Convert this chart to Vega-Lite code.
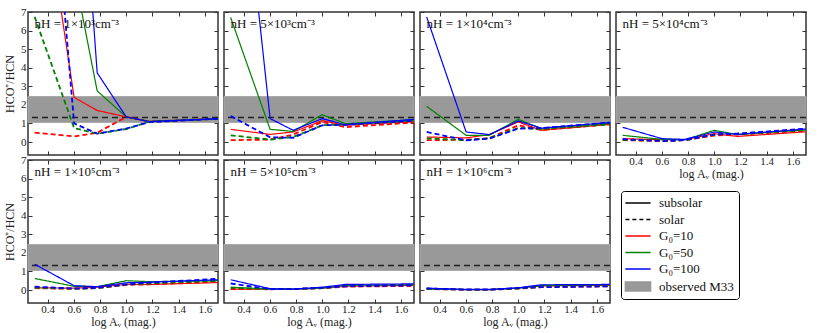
{
"$schema": "https://vega.github.io/schema/vega-lite/v6.json",
"padding": {"left": 2, "top": 5, "right": 5, "bottom": 2},
"config": {
  "font": "Liberation Serif",
  "view": {"stroke": "#333333", "strokeWidth": 1.5},
  "axis": {"labelFont": "Liberation Serif", "titleFont": "Liberation Serif", "labelFontSize": 11, "titleFontSize": 12, "titleFontWeight": "normal", "labelColor": "#222222", "titleColor": "#222222", "domain": false, "grid": false, "tickColor": "#333333", "tickSize": -4, "labelPadding": 6, "labelOverlap": false},
  "axisX": {"labelPadding": 4}
},
"datasets": {"curves": [
{"p":1,"g":"G₀=10","a":"subsolar","x":0.301,"y":16.6,"t":"nH = 1×10³cm⁻³"},{"p":1,"g":"G₀=10","a":"subsolar","x":0.602,"y":2.4},{"p":1,"g":"G₀=10","a":"subsolar","x":0.778,"y":1.7},{"p":1,"g":"G₀=10","a":"subsolar","x":1.0,"y":1.35},{"p":1,"g":"G₀=10","a":"subsolar","x":1.176,"y":1.1},{"p":1,"g":"G₀=10","a":"subsolar","x":1.699,"y":1.25},
{"p":1,"g":"G₀=10","a":"solar","x":0.301,"y":0.5},{"p":1,"g":"G₀=10","a":"solar","x":0.602,"y":0.3},{"p":1,"g":"G₀=10","a":"solar","x":0.778,"y":0.5},{"p":1,"g":"G₀=10","a":"solar","x":1.0,"y":1.35},{"p":1,"g":"G₀=10","a":"solar","x":1.176,"y":1.1},{"p":1,"g":"G₀=10","a":"solar","x":1.699,"y":1.25},
{"p":1,"g":"G₀=50","a":"subsolar","x":0.301,"y":20},{"p":1,"g":"G₀=50","a":"subsolar","x":0.602,"y":9.1},{"p":1,"g":"G₀=50","a":"subsolar","x":0.778,"y":2.75},{"p":1,"g":"G₀=50","a":"subsolar","x":1.0,"y":1.35},{"p":1,"g":"G₀=50","a":"subsolar","x":1.176,"y":1.1},{"p":1,"g":"G₀=50","a":"subsolar","x":1.699,"y":1.25},
{"p":1,"g":"G₀=50","a":"solar","x":0.301,"y":6.74},{"p":1,"g":"G₀=50","a":"solar","x":0.602,"y":0.75},{"p":1,"g":"G₀=50","a":"solar","x":0.778,"y":0.45},{"p":1,"g":"G₀=50","a":"solar","x":1.0,"y":0.7},{"p":1,"g":"G₀=50","a":"solar","x":1.176,"y":1.1},{"p":1,"g":"G₀=50","a":"solar","x":1.699,"y":1.25},
{"p":1,"g":"G₀=100","a":"subsolar","x":0.301,"y":30},{"p":1,"g":"G₀=100","a":"subsolar","x":0.602,"y":21},{"p":1,"g":"G₀=100","a":"subsolar","x":0.778,"y":3.72},{"p":1,"g":"G₀=100","a":"subsolar","x":1.0,"y":1.35},{"p":1,"g":"G₀=100","a":"subsolar","x":1.176,"y":1.1},{"p":1,"g":"G₀=100","a":"subsolar","x":1.699,"y":1.25},
{"p":1,"g":"G₀=100","a":"solar","x":0.301,"y":26},{"p":1,"g":"G₀=100","a":"solar","x":0.602,"y":1.0},{"p":1,"g":"G₀=100","a":"solar","x":0.778,"y":0.45},{"p":1,"g":"G₀=100","a":"solar","x":1.0,"y":0.72},{"p":1,"g":"G₀=100","a":"solar","x":1.176,"y":1.07},{"p":1,"g":"G₀=100","a":"solar","x":1.699,"y":1.25},

{"p":2,"g":"G₀=10","a":"subsolar","x":0.301,"y":0.68,"t":"nH = 5×10³cm⁻³"},{"p":2,"g":"G₀=10","a":"subsolar","x":0.602,"y":0.41},{"p":2,"g":"G₀=10","a":"subsolar","x":0.778,"y":0.54},{"p":2,"g":"G₀=10","a":"subsolar","x":1.0,"y":1.15},{"p":2,"g":"G₀=10","a":"subsolar","x":1.176,"y":0.9},{"p":2,"g":"G₀=10","a":"subsolar","x":1.699,"y":1.1},
{"p":2,"g":"G₀=10","a":"solar","x":0.301,"y":0.1},{"p":2,"g":"G₀=10","a":"solar","x":0.602,"y":0.13},{"p":2,"g":"G₀=10","a":"solar","x":0.778,"y":0.4},{"p":2,"g":"G₀=10","a":"solar","x":1.0,"y":1.08},{"p":2,"g":"G₀=10","a":"solar","x":1.176,"y":0.8},{"p":2,"g":"G₀=10","a":"solar","x":1.699,"y":1.05},
{"p":2,"g":"G₀=50","a":"subsolar","x":0.301,"y":6.7},{"p":2,"g":"G₀=50","a":"subsolar","x":0.602,"y":0.68},{"p":2,"g":"G₀=50","a":"subsolar","x":0.778,"y":0.57},{"p":2,"g":"G₀=50","a":"subsolar","x":1.0,"y":1.47},{"p":2,"g":"G₀=50","a":"subsolar","x":1.176,"y":0.99},{"p":2,"g":"G₀=50","a":"subsolar","x":1.699,"y":1.2},
{"p":2,"g":"G₀=50","a":"solar","x":0.301,"y":0.36},{"p":2,"g":"G₀=50","a":"solar","x":0.602,"y":0.13},{"p":2,"g":"G₀=50","a":"solar","x":0.778,"y":0.27},{"p":2,"g":"G₀=50","a":"solar","x":1.0,"y":0.9},{"p":2,"g":"G₀=50","a":"solar","x":1.176,"y":0.95},{"p":2,"g":"G₀=50","a":"solar","x":1.699,"y":1.15},
{"p":2,"g":"G₀=100","a":"subsolar","x":0.301,"y":21},{"p":2,"g":"G₀=100","a":"subsolar","x":0.602,"y":1.26},{"p":2,"g":"G₀=100","a":"subsolar","x":0.778,"y":0.63},{"p":2,"g":"G₀=100","a":"subsolar","x":1.0,"y":1.26},{"p":2,"g":"G₀=100","a":"subsolar","x":1.176,"y":0.93},{"p":2,"g":"G₀=100","a":"subsolar","x":1.699,"y":1.22},
{"p":2,"g":"G₀=100","a":"solar","x":0.301,"y":1.4},{"p":2,"g":"G₀=100","a":"solar","x":0.602,"y":0.25},{"p":2,"g":"G₀=100","a":"solar","x":0.778,"y":0.23},{"p":2,"g":"G₀=100","a":"solar","x":1.0,"y":0.9},{"p":2,"g":"G₀=100","a":"solar","x":1.176,"y":0.93},{"p":2,"g":"G₀=100","a":"solar","x":1.699,"y":1.15},

{"p":3,"g":"G₀=10","a":"subsolar","x":0.301,"y":0.27,"t":"nH = 1×10⁴cm⁻³"},{"p":3,"g":"G₀=10","a":"subsolar","x":0.602,"y":0.22},{"p":3,"g":"G₀=10","a":"subsolar","x":0.778,"y":0.4},{"p":3,"g":"G₀=10","a":"subsolar","x":1.0,"y":1.08},{"p":3,"g":"G₀=10","a":"subsolar","x":1.176,"y":0.63},{"p":3,"g":"G₀=10","a":"subsolar","x":1.699,"y":0.95},
{"p":3,"g":"G₀=10","a":"solar","x":0.301,"y":0.1},{"p":3,"g":"G₀=10","a":"solar","x":0.602,"y":0.12},{"p":3,"g":"G₀=10","a":"solar","x":0.778,"y":0.2},{"p":3,"g":"G₀=10","a":"solar","x":1.0,"y":0.9},{"p":3,"g":"G₀=10","a":"solar","x":1.176,"y":0.65},{"p":3,"g":"G₀=10","a":"solar","x":1.699,"y":0.95},
{"p":3,"g":"G₀=50","a":"subsolar","x":0.301,"y":1.92},{"p":3,"g":"G₀=50","a":"subsolar","x":0.602,"y":0.36},{"p":3,"g":"G₀=50","a":"subsolar","x":0.778,"y":0.36},{"p":3,"g":"G₀=50","a":"subsolar","x":1.0,"y":1.22},{"p":3,"g":"G₀=50","a":"subsolar","x":1.176,"y":0.72},{"p":3,"g":"G₀=50","a":"subsolar","x":1.699,"y":1.0},
{"p":3,"g":"G₀=50","a":"solar","x":0.301,"y":0.2},{"p":3,"g":"G₀=50","a":"solar","x":0.602,"y":0.1},{"p":3,"g":"G₀=50","a":"solar","x":0.778,"y":0.2},{"p":3,"g":"G₀=50","a":"solar","x":1.0,"y":0.75},{"p":3,"g":"G₀=50","a":"solar","x":1.176,"y":0.7},{"p":3,"g":"G₀=50","a":"solar","x":1.699,"y":0.95},
{"p":3,"g":"G₀=100","a":"subsolar","x":0.301,"y":6.73},{"p":3,"g":"G₀=100","a":"subsolar","x":0.602,"y":0.54},{"p":3,"g":"G₀=100","a":"subsolar","x":0.778,"y":0.4},{"p":3,"g":"G₀=100","a":"subsolar","x":1.0,"y":1.13},{"p":3,"g":"G₀=100","a":"subsolar","x":1.176,"y":0.75},{"p":3,"g":"G₀=100","a":"subsolar","x":1.699,"y":1.05},
{"p":3,"g":"G₀=100","a":"solar","x":0.301,"y":0.54},{"p":3,"g":"G₀=100","a":"solar","x":0.602,"y":0.09},{"p":3,"g":"G₀=100","a":"solar","x":0.778,"y":0.18},{"p":3,"g":"G₀=100","a":"solar","x":1.0,"y":0.72},{"p":3,"g":"G₀=100","a":"solar","x":1.176,"y":0.75},{"p":3,"g":"G₀=100","a":"solar","x":1.699,"y":1.05},

{"p":4,"g":"G₀=10","a":"subsolar","x":0.301,"y":0.18,"t":"nH = 5×10⁴cm⁻³"},{"p":4,"g":"G₀=10","a":"subsolar","x":0.602,"y":0.12},{"p":4,"g":"G₀=10","a":"subsolar","x":0.778,"y":0.12},{"p":4,"g":"G₀=10","a":"subsolar","x":1.0,"y":0.45},{"p":4,"g":"G₀=10","a":"subsolar","x":1.176,"y":0.3},{"p":4,"g":"G₀=10","a":"subsolar","x":1.699,"y":0.55},
{"p":4,"g":"G₀=10","a":"solar","x":0.301,"y":0.1},{"p":4,"g":"G₀=10","a":"solar","x":0.602,"y":0.05},{"p":4,"g":"G₀=10","a":"solar","x":0.778,"y":0.1},{"p":4,"g":"G₀=10","a":"solar","x":1.0,"y":0.35},{"p":4,"g":"G₀=10","a":"solar","x":1.176,"y":0.4},{"p":4,"g":"G₀=10","a":"solar","x":1.699,"y":0.6},
{"p":4,"g":"G₀=50","a":"subsolar","x":0.301,"y":0.36},{"p":4,"g":"G₀=50","a":"subsolar","x":0.602,"y":0.14},{"p":4,"g":"G₀=50","a":"subsolar","x":0.778,"y":0.12},{"p":4,"g":"G₀=50","a":"subsolar","x":1.0,"y":0.63},{"p":4,"g":"G₀=50","a":"subsolar","x":1.176,"y":0.4},{"p":4,"g":"G₀=50","a":"subsolar","x":1.699,"y":0.65},
{"p":4,"g":"G₀=50","a":"solar","x":0.301,"y":0.12},{"p":4,"g":"G₀=50","a":"solar","x":0.602,"y":0.07},{"p":4,"g":"G₀=50","a":"solar","x":0.778,"y":0.1},{"p":4,"g":"G₀=50","a":"solar","x":1.0,"y":0.4},{"p":4,"g":"G₀=50","a":"solar","x":1.176,"y":0.45},{"p":4,"g":"G₀=50","a":"solar","x":1.699,"y":0.65},
{"p":4,"g":"G₀=100","a":"subsolar","x":0.301,"y":0.79},{"p":4,"g":"G₀=100","a":"subsolar","x":0.602,"y":0.18},{"p":4,"g":"G₀=100","a":"subsolar","x":0.778,"y":0.14},{"p":4,"g":"G₀=100","a":"subsolar","x":1.0,"y":0.54},{"p":4,"g":"G₀=100","a":"subsolar","x":1.176,"y":0.41},{"p":4,"g":"G₀=100","a":"subsolar","x":1.699,"y":0.7},
{"p":4,"g":"G₀=100","a":"solar","x":0.301,"y":0.15},{"p":4,"g":"G₀=100","a":"solar","x":0.602,"y":0.05},{"p":4,"g":"G₀=100","a":"solar","x":0.778,"y":0.1},{"p":4,"g":"G₀=100","a":"solar","x":1.0,"y":0.4},{"p":4,"g":"G₀=100","a":"solar","x":1.176,"y":0.45},{"p":4,"g":"G₀=100","a":"solar","x":1.699,"y":0.72},

{"p":5,"g":"G₀=10","a":"subsolar","x":0.301,"y":0.12,"t":"nH = 1×10⁵cm⁻³"},{"p":5,"g":"G₀=10","a":"subsolar","x":0.602,"y":0.1},{"p":5,"g":"G₀=10","a":"subsolar","x":0.778,"y":0.15},{"p":5,"g":"G₀=10","a":"subsolar","x":1.0,"y":0.3},{"p":5,"g":"G₀=10","a":"subsolar","x":1.176,"y":0.3},{"p":5,"g":"G₀=10","a":"subsolar","x":1.699,"y":0.4},
{"p":5,"g":"G₀=10","a":"solar","x":0.301,"y":0.1},{"p":5,"g":"G₀=10","a":"solar","x":0.602,"y":0.06},{"p":5,"g":"G₀=10","a":"solar","x":0.778,"y":0.1},{"p":5,"g":"G₀=10","a":"solar","x":1.0,"y":0.28},{"p":5,"g":"G₀=10","a":"solar","x":1.176,"y":0.3},{"p":5,"g":"G₀=10","a":"solar","x":1.699,"y":0.45},
{"p":5,"g":"G₀=50","a":"subsolar","x":0.301,"y":0.62},{"p":5,"g":"G₀=50","a":"subsolar","x":0.602,"y":0.2},{"p":5,"g":"G₀=50","a":"subsolar","x":0.778,"y":0.18},{"p":5,"g":"G₀=50","a":"subsolar","x":1.0,"y":0.5},{"p":5,"g":"G₀=50","a":"subsolar","x":1.176,"y":0.45},{"p":5,"g":"G₀=50","a":"subsolar","x":1.699,"y":0.5},
{"p":5,"g":"G₀=50","a":"solar","x":0.301,"y":0.12},{"p":5,"g":"G₀=50","a":"solar","x":0.602,"y":0.07},{"p":5,"g":"G₀=50","a":"solar","x":0.778,"y":0.1},{"p":5,"g":"G₀=50","a":"solar","x":1.0,"y":0.3},{"p":5,"g":"G₀=50","a":"solar","x":1.176,"y":0.35},{"p":5,"g":"G₀=50","a":"solar","x":1.699,"y":0.5},
{"p":5,"g":"G₀=100","a":"subsolar","x":0.301,"y":1.39},{"p":5,"g":"G₀=100","a":"subsolar","x":0.602,"y":0.23},{"p":5,"g":"G₀=100","a":"subsolar","x":0.778,"y":0.18},{"p":5,"g":"G₀=100","a":"subsolar","x":1.0,"y":0.39},{"p":5,"g":"G₀=100","a":"subsolar","x":1.176,"y":0.42},{"p":5,"g":"G₀=100","a":"subsolar","x":1.699,"y":0.55},
{"p":5,"g":"G₀=100","a":"solar","x":0.301,"y":0.18},{"p":5,"g":"G₀=100","a":"solar","x":0.602,"y":0.08},{"p":5,"g":"G₀=100","a":"solar","x":0.778,"y":0.12},{"p":5,"g":"G₀=100","a":"solar","x":1.0,"y":0.3},{"p":5,"g":"G₀=100","a":"solar","x":1.176,"y":0.4},{"p":5,"g":"G₀=100","a":"solar","x":1.699,"y":0.6},

{"p":6,"g":"G₀=10","a":"subsolar","x":0.301,"y":0.05,"t":"nH = 5×10⁵cm⁻³"},{"p":6,"g":"G₀=10","a":"subsolar","x":0.602,"y":0.04},{"p":6,"g":"G₀=10","a":"subsolar","x":0.778,"y":0.05},{"p":6,"g":"G₀=10","a":"subsolar","x":1.0,"y":0.1},{"p":6,"g":"G₀=10","a":"subsolar","x":1.176,"y":0.2},{"p":6,"g":"G₀=10","a":"subsolar","x":1.699,"y":0.25},
{"p":6,"g":"G₀=10","a":"solar","x":0.301,"y":0.05},{"p":6,"g":"G₀=10","a":"solar","x":0.602,"y":0.04},{"p":6,"g":"G₀=10","a":"solar","x":0.778,"y":0.05},{"p":6,"g":"G₀=10","a":"solar","x":1.0,"y":0.1},{"p":6,"g":"G₀=10","a":"solar","x":1.176,"y":0.18},{"p":6,"g":"G₀=10","a":"solar","x":1.699,"y":0.22},
{"p":6,"g":"G₀=50","a":"subsolar","x":0.301,"y":0.15},{"p":6,"g":"G₀=50","a":"subsolar","x":0.602,"y":0.05},{"p":6,"g":"G₀=50","a":"subsolar","x":0.778,"y":0.05},{"p":6,"g":"G₀=50","a":"subsolar","x":1.0,"y":0.1},{"p":6,"g":"G₀=50","a":"subsolar","x":1.176,"y":0.25},{"p":6,"g":"G₀=50","a":"subsolar","x":1.699,"y":0.28},
{"p":6,"g":"G₀=50","a":"solar","x":0.301,"y":0.12},{"p":6,"g":"G₀=50","a":"solar","x":0.602,"y":0.05},{"p":6,"g":"G₀=50","a":"solar","x":0.778,"y":0.05},{"p":6,"g":"G₀=50","a":"solar","x":1.0,"y":0.1},{"p":6,"g":"G₀=50","a":"solar","x":1.176,"y":0.22},{"p":6,"g":"G₀=50","a":"solar","x":1.699,"y":0.28},
{"p":6,"g":"G₀=100","a":"subsolar","x":0.301,"y":0.55},{"p":6,"g":"G₀=100","a":"subsolar","x":0.602,"y":0.07},{"p":6,"g":"G₀=100","a":"subsolar","x":0.778,"y":0.05},{"p":6,"g":"G₀=100","a":"subsolar","x":1.0,"y":0.15},{"p":6,"g":"G₀=100","a":"subsolar","x":1.176,"y":0.3},{"p":6,"g":"G₀=100","a":"subsolar","x":1.699,"y":0.33},
{"p":6,"g":"G₀=100","a":"solar","x":0.301,"y":0.35},{"p":6,"g":"G₀=100","a":"solar","x":0.602,"y":0.05},{"p":6,"g":"G₀=100","a":"solar","x":0.778,"y":0.05},{"p":6,"g":"G₀=100","a":"solar","x":1.0,"y":0.12},{"p":6,"g":"G₀=100","a":"solar","x":1.176,"y":0.2},{"p":6,"g":"G₀=100","a":"solar","x":1.699,"y":0.25},

{"p":7,"g":"G₀=10","a":"subsolar","x":0.301,"y":0.05,"t":"nH = 1×10⁶cm⁻³"},{"p":7,"g":"G₀=10","a":"subsolar","x":0.602,"y":0.02},{"p":7,"g":"G₀=10","a":"subsolar","x":0.778,"y":0.02},{"p":7,"g":"G₀=10","a":"subsolar","x":1.0,"y":0.1},{"p":7,"g":"G₀=10","a":"subsolar","x":1.176,"y":0.22},{"p":7,"g":"G₀=10","a":"subsolar","x":1.699,"y":0.25},
{"p":7,"g":"G₀=10","a":"solar","x":0.301,"y":0.05},{"p":7,"g":"G₀=10","a":"solar","x":0.602,"y":0.02},{"p":7,"g":"G₀=10","a":"solar","x":0.778,"y":0.02},{"p":7,"g":"G₀=10","a":"solar","x":1.0,"y":0.08},{"p":7,"g":"G₀=10","a":"solar","x":1.176,"y":0.15},{"p":7,"g":"G₀=10","a":"solar","x":1.699,"y":0.2},
{"p":7,"g":"G₀=50","a":"subsolar","x":0.301,"y":0.07},{"p":7,"g":"G₀=50","a":"subsolar","x":0.602,"y":0.02},{"p":7,"g":"G₀=50","a":"subsolar","x":0.778,"y":0.02},{"p":7,"g":"G₀=50","a":"subsolar","x":1.0,"y":0.1},{"p":7,"g":"G₀=50","a":"subsolar","x":1.176,"y":0.25},{"p":7,"g":"G₀=50","a":"subsolar","x":1.699,"y":0.28},
{"p":7,"g":"G₀=50","a":"solar","x":0.301,"y":0.06},{"p":7,"g":"G₀=50","a":"solar","x":0.602,"y":0.02},{"p":7,"g":"G₀=50","a":"solar","x":0.778,"y":0.02},{"p":7,"g":"G₀=50","a":"solar","x":1.0,"y":0.08},{"p":7,"g":"G₀=50","a":"solar","x":1.176,"y":0.18},{"p":7,"g":"G₀=50","a":"solar","x":1.699,"y":0.22},
{"p":7,"g":"G₀=100","a":"subsolar","x":0.301,"y":0.1},{"p":7,"g":"G₀=100","a":"subsolar","x":0.602,"y":0.03},{"p":7,"g":"G₀=100","a":"subsolar","x":0.778,"y":0.03},{"p":7,"g":"G₀=100","a":"subsolar","x":1.0,"y":0.12},{"p":7,"g":"G₀=100","a":"subsolar","x":1.176,"y":0.28},{"p":7,"g":"G₀=100","a":"subsolar","x":1.699,"y":0.3},
{"p":7,"g":"G₀=100","a":"solar","x":0.301,"y":0.08},{"p":7,"g":"G₀=100","a":"solar","x":0.602,"y":0.02},{"p":7,"g":"G₀=100","a":"solar","x":0.778,"y":0.02},{"p":7,"g":"G₀=100","a":"solar","x":1.0,"y":0.1},{"p":7,"g":"G₀=100","a":"solar","x":1.176,"y":0.15},{"p":7,"g":"G₀=100","a":"solar","x":1.699,"y":0.2}
]},
"data": {"name": "curves"},
"columns": 4,
"spacing": {"row": 5, "column": 6},
"bounds": "flush",
"resolve": {"scale": {"color": "shared", "strokeDash": "shared", "strokeWidth": "shared"}, "legend": {"color": "shared"}},
"concat": [
 {"width": 190, "height": 143, "transform": [{"filter": "datum.p == 1"}], "resolve": {"axis": {"x": "independent", "y": "independent"}},
  "layer": [
   {"transform": [{"filter": "isValid(datum.t)"}], "mark": {"type": "rect", "fill": "#999999", "stroke": "#aaaaaa", "strokeWidth": 1},
    "encoding": {"y": {"datum": 1.05, "type": "quantitative", "scale": {"domain": [-0.7, 7], "nice": false, "zero": false}, "axis": {"orient": "left", "values": [0,1,2,3,4,5,6,7], "title": "HCO⁺/HCN", "titlePadding": 4}}, "y2": {"datum": 2.45}}},
   {"transform": [{"filter": "isValid(datum.t)"}], "mark": {"type": "rule", "color": "#222222", "strokeWidth": 1.5, "strokeDash": [6, 4]},
    "encoding": {"y": {"datum": 1.32, "type": "quantitative", "axis": null}}},
   {"mark": {"type": "line", "clip": true},
    "encoding": {
     "x": {"field": "x", "type": "quantitative", "scale": {"domain": [0.25, 1.7], "nice": false, "zero": false}, "axis": {"orient": "bottom", "values": [0.4,0.6,0.8,1.0,1.2,1.4,1.6], "labels": false, "title": null}},
     "y": {"field": "y", "type": "quantitative", "axis": null},
     "color": {"field": "g", "type": "nominal", "scale": {"domain": ["subsolar", "solar", "G₀=10", "G₀=50", "G₀=100", "observed M33"], "range": ["#000000", "#000000", "#ff0000", "#008000", "#0000ff", "#999999"]},
               "legend": {"orient": "none", "legendX": 593, "legendY": 179, "title": null,
                          "symbolType": "M-2.1,0L2.1,0", "symbolSize": 144, "symbolStrokeWidth": 1.5,
                          "labelFont": "Liberation Serif", "labelFontSize": 13, "labelColor": "#111111", "labelOffset": 14,
                          "rowPadding": 2.5, "padding": 5, "strokeColor": "#000000", "cornerRadius": 3, "fillColor": "#ffffff", "symbolOffset": 5,
                          "encode": {"symbols": {"update": {
                            "shape": {"signal": "datum.value === 'observed M33' ? 'M-2.1,-0.75L2.1,-0.75L2.1,0.75L-2.1,0.75Z' : 'M-2.1,0L2.1,0'"},
                            "fill": {"signal": "datum.value === 'observed M33' ? '#999999' : 'transparent'"},
                            "strokeDash": {"signal": "datum.value === 'solar' ? [4,3] : [1,0]"}}}}}},
     "strokeDash": {"field": "a", "type": "nominal", "scale": {"domain": ["subsolar", "solar"], "range": [[1, 0], [5, 3]]}, "legend": null},
     "strokeWidth": {"field": "a", "type": "ordinal", "scale": {"domain": ["subsolar", "solar"], "range": [1.2, 1.8]}, "legend": null}}},
   {"transform": [{"filter": "isValid(datum.t)"}], "mark": {"type": "text", "align": "left", "baseline": "middle", "fontSize": 13, "font": "Liberation Serif", "color": "#111111"},
    "encoding": {"x": {"datum": 0.3, "type": "quantitative", "axis": {"orient": "top", "values": [0.4,0.6,0.8,1.0,1.2,1.4,1.6], "labels": false, "title": null}},
                 "y": {"datum": 6.35, "type": "quantitative", "axis": {"orient": "right", "values": [0,1,2,3,4,5,6,7], "labels": false, "title": null}},
                 "text": {"field": "t"}}}
  ]},
 {"width": 190, "height": 143, "transform": [{"filter": "datum.p == 2"}], "resolve": {"axis": {"x": "independent", "y": "independent"}},
  "layer": [
   {"transform": [{"filter": "isValid(datum.t)"}], "mark": {"type": "rect", "fill": "#999999", "stroke": "#aaaaaa", "strokeWidth": 1},
    "encoding": {"y": {"datum": 1.05, "type": "quantitative", "scale": {"domain": [-0.7, 7], "nice": false, "zero": false}, "axis": {"orient": "left", "values": [0,1,2,3,4,5,6,7], "labels": false, "title": null}}, "y2": {"datum": 2.45}}},
   {"transform": [{"filter": "isValid(datum.t)"}], "mark": {"type": "rule", "color": "#222222", "strokeWidth": 1.5, "strokeDash": [6, 4]},
    "encoding": {"y": {"datum": 1.32, "type": "quantitative", "axis": null}}},
   {"mark": {"type": "line", "clip": true},
    "encoding": {
     "x": {"field": "x", "type": "quantitative", "scale": {"domain": [0.25, 1.7], "nice": false, "zero": false}, "axis": {"orient": "bottom", "values": [0.4,0.6,0.8,1.0,1.2,1.4,1.6], "labels": false, "title": null}},
     "y": {"field": "y", "type": "quantitative", "axis": null},
     "color": {"field": "g", "type": "nominal", "scale": {"domain": ["subsolar", "solar", "G₀=10", "G₀=50", "G₀=100", "observed M33"], "range": ["#000000", "#000000", "#ff0000", "#008000", "#0000ff", "#999999"]}},
     "strokeDash": {"field": "a", "type": "nominal", "scale": {"domain": ["subsolar", "solar"], "range": [[1, 0], [5, 3]]}, "legend": null},
     "strokeWidth": {"field": "a", "type": "ordinal", "scale": {"domain": ["subsolar", "solar"], "range": [1.2, 1.8]}, "legend": null}}},
   {"transform": [{"filter": "isValid(datum.t)"}], "mark": {"type": "text", "align": "left", "baseline": "middle", "fontSize": 13, "font": "Liberation Serif", "color": "#111111"},
    "encoding": {"x": {"datum": 0.3, "type": "quantitative", "axis": {"orient": "top", "values": [0.4,0.6,0.8,1.0,1.2,1.4,1.6], "labels": false, "title": null}},
                 "y": {"datum": 6.35, "type": "quantitative", "axis": {"orient": "right", "values": [0,1,2,3,4,5,6,7], "labels": false, "title": null}},
                 "text": {"field": "t"}}}
  ]},
 {"width": 190, "height": 143, "transform": [{"filter": "datum.p == 3"}], "resolve": {"axis": {"x": "independent", "y": "independent"}},
  "layer": [
   {"transform": [{"filter": "isValid(datum.t)"}], "mark": {"type": "rect", "fill": "#999999", "stroke": "#aaaaaa", "strokeWidth": 1},
    "encoding": {"y": {"datum": 1.05, "type": "quantitative", "scale": {"domain": [-0.7, 7], "nice": false, "zero": false}, "axis": {"orient": "left", "values": [0,1,2,3,4,5,6,7], "labels": false, "title": null}}, "y2": {"datum": 2.45}}},
   {"transform": [{"filter": "isValid(datum.t)"}], "mark": {"type": "rule", "color": "#222222", "strokeWidth": 1.5, "strokeDash": [6, 4]},
    "encoding": {"y": {"datum": 1.32, "type": "quantitative", "axis": null}}},
   {"mark": {"type": "line", "clip": true},
    "encoding": {
     "x": {"field": "x", "type": "quantitative", "scale": {"domain": [0.25, 1.7], "nice": false, "zero": false}, "axis": {"orient": "bottom", "values": [0.4,0.6,0.8,1.0,1.2,1.4,1.6], "labels": false, "title": null}},
     "y": {"field": "y", "type": "quantitative", "axis": null},
     "color": {"field": "g", "type": "nominal", "scale": {"domain": ["subsolar", "solar", "G₀=10", "G₀=50", "G₀=100", "observed M33"], "range": ["#000000", "#000000", "#ff0000", "#008000", "#0000ff", "#999999"]}},
     "strokeDash": {"field": "a", "type": "nominal", "scale": {"domain": ["subsolar", "solar"], "range": [[1, 0], [5, 3]]}, "legend": null},
     "strokeWidth": {"field": "a", "type": "ordinal", "scale": {"domain": ["subsolar", "solar"], "range": [1.2, 1.8]}, "legend": null}}},
   {"transform": [{"filter": "isValid(datum.t)"}], "mark": {"type": "text", "align": "left", "baseline": "middle", "fontSize": 13, "font": "Liberation Serif", "color": "#111111"},
    "encoding": {"x": {"datum": 0.3, "type": "quantitative", "axis": {"orient": "top", "values": [0.4,0.6,0.8,1.0,1.2,1.4,1.6], "labels": false, "title": null}},
                 "y": {"datum": 6.35, "type": "quantitative", "axis": {"orient": "right", "values": [0,1,2,3,4,5,6,7], "labels": false, "title": null}},
                 "text": {"field": "t"}}}
  ]},
 {"width": 190, "height": 143, "transform": [{"filter": "datum.p == 4"}], "resolve": {"axis": {"x": "independent", "y": "independent"}},
  "layer": [
   {"transform": [{"filter": "isValid(datum.t)"}], "mark": {"type": "rect", "fill": "#999999", "stroke": "#aaaaaa", "strokeWidth": 1},
    "encoding": {"y": {"datum": 1.05, "type": "quantitative", "scale": {"domain": [-0.7, 7], "nice": false, "zero": false}, "axis": {"orient": "left", "values": [0,1,2,3,4,5,6,7], "labels": false, "title": null}}, "y2": {"datum": 2.45}}},
   {"transform": [{"filter": "isValid(datum.t)"}], "mark": {"type": "rule", "color": "#222222", "strokeWidth": 1.5, "strokeDash": [6, 4]},
    "encoding": {"y": {"datum": 1.32, "type": "quantitative", "axis": null}}},
   {"mark": {"type": "line", "clip": true},
    "encoding": {
     "x": {"field": "x", "type": "quantitative", "scale": {"domain": [0.25, 1.7], "nice": false, "zero": false}, "axis": {"orient": "bottom", "values": [0.4,0.6,0.8,1.0,1.2,1.4,1.6], "format": ".1f", "title": "log Aᵥ (mag.)", "titlePadding": 2}},
     "y": {"field": "y", "type": "quantitative", "axis": null},
     "color": {"field": "g", "type": "nominal", "scale": {"domain": ["subsolar", "solar", "G₀=10", "G₀=50", "G₀=100", "observed M33"], "range": ["#000000", "#000000", "#ff0000", "#008000", "#0000ff", "#999999"]}},
     "strokeDash": {"field": "a", "type": "nominal", "scale": {"domain": ["subsolar", "solar"], "range": [[1, 0], [5, 3]]}, "legend": null},
     "strokeWidth": {"field": "a", "type": "ordinal", "scale": {"domain": ["subsolar", "solar"], "range": [1.2, 1.8]}, "legend": null}}},
   {"transform": [{"filter": "isValid(datum.t)"}], "mark": {"type": "text", "align": "left", "baseline": "middle", "fontSize": 13, "font": "Liberation Serif", "color": "#111111"},
    "encoding": {"x": {"datum": 0.3, "type": "quantitative", "axis": {"orient": "top", "values": [0.4,0.6,0.8,1.0,1.2,1.4,1.6], "labels": false, "title": null}},
                 "y": {"datum": 6.35, "type": "quantitative", "axis": {"orient": "right", "values": [0,1,2,3,4,5,6,7], "labels": false, "title": null}},
                 "text": {"field": "t"}}}
  ]},
 {"width": 190, "height": 143, "transform": [{"filter": "datum.p == 5"}], "resolve": {"axis": {"x": "independent", "y": "independent"}},
  "layer": [
   {"transform": [{"filter": "isValid(datum.t)"}], "mark": {"type": "rect", "fill": "#999999", "stroke": "#aaaaaa", "strokeWidth": 1},
    "encoding": {"y": {"datum": 1.05, "type": "quantitative", "scale": {"domain": [-0.7, 7], "nice": false, "zero": false}, "axis": {"orient": "left", "values": [0,1,2,3,4,5,6,7], "title": "HCO⁺/HCN", "titlePadding": 4}}, "y2": {"datum": 2.45}}},
   {"transform": [{"filter": "isValid(datum.t)"}], "mark": {"type": "rule", "color": "#222222", "strokeWidth": 1.5, "strokeDash": [6, 4]},
    "encoding": {"y": {"datum": 1.32, "type": "quantitative", "axis": null}}},
   {"mark": {"type": "line", "clip": true},
    "encoding": {
     "x": {"field": "x", "type": "quantitative", "scale": {"domain": [0.25, 1.7], "nice": false, "zero": false}, "axis": {"orient": "bottom", "values": [0.4,0.6,0.8,1.0,1.2,1.4,1.6], "format": ".1f", "title": "log Aᵥ (mag.)", "titlePadding": 2}},
     "y": {"field": "y", "type": "quantitative", "axis": null},
     "color": {"field": "g", "type": "nominal", "scale": {"domain": ["subsolar", "solar", "G₀=10", "G₀=50", "G₀=100", "observed M33"], "range": ["#000000", "#000000", "#ff0000", "#008000", "#0000ff", "#999999"]}},
     "strokeDash": {"field": "a", "type": "nominal", "scale": {"domain": ["subsolar", "solar"], "range": [[1, 0], [5, 3]]}, "legend": null},
     "strokeWidth": {"field": "a", "type": "ordinal", "scale": {"domain": ["subsolar", "solar"], "range": [1.2, 1.8]}, "legend": null}}},
   {"transform": [{"filter": "isValid(datum.t)"}], "mark": {"type": "text", "align": "left", "baseline": "middle", "fontSize": 13, "font": "Liberation Serif", "color": "#111111"},
    "encoding": {"x": {"datum": 0.3, "type": "quantitative", "axis": {"orient": "top", "values": [0.4,0.6,0.8,1.0,1.2,1.4,1.6], "labels": false, "title": null}},
                 "y": {"datum": 6.35, "type": "quantitative", "axis": {"orient": "right", "values": [0,1,2,3,4,5,6,7], "labels": false, "title": null}},
                 "text": {"field": "t"}}}
  ]},
 {"width": 190, "height": 143, "transform": [{"filter": "datum.p == 6"}], "resolve": {"axis": {"x": "independent", "y": "independent"}},
  "layer": [
   {"transform": [{"filter": "isValid(datum.t)"}], "mark": {"type": "rect", "fill": "#999999", "stroke": "#aaaaaa", "strokeWidth": 1},
    "encoding": {"y": {"datum": 1.05, "type": "quantitative", "scale": {"domain": [-0.7, 7], "nice": false, "zero": false}, "axis": {"orient": "left", "values": [0,1,2,3,4,5,6,7], "labels": false, "title": null}}, "y2": {"datum": 2.45}}},
   {"transform": [{"filter": "isValid(datum.t)"}], "mark": {"type": "rule", "color": "#222222", "strokeWidth": 1.5, "strokeDash": [6, 4]},
    "encoding": {"y": {"datum": 1.32, "type": "quantitative", "axis": null}}},
   {"mark": {"type": "line", "clip": true},
    "encoding": {
     "x": {"field": "x", "type": "quantitative", "scale": {"domain": [0.25, 1.7], "nice": false, "zero": false}, "axis": {"orient": "bottom", "values": [0.4,0.6,0.8,1.0,1.2,1.4,1.6], "format": ".1f", "title": "log Aᵥ (mag.)", "titlePadding": 2}},
     "y": {"field": "y", "type": "quantitative", "axis": null},
     "color": {"field": "g", "type": "nominal", "scale": {"domain": ["subsolar", "solar", "G₀=10", "G₀=50", "G₀=100", "observed M33"], "range": ["#000000", "#000000", "#ff0000", "#008000", "#0000ff", "#999999"]}},
     "strokeDash": {"field": "a", "type": "nominal", "scale": {"domain": ["subsolar", "solar"], "range": [[1, 0], [5, 3]]}, "legend": null},
     "strokeWidth": {"field": "a", "type": "ordinal", "scale": {"domain": ["subsolar", "solar"], "range": [1.2, 1.8]}, "legend": null}}},
   {"transform": [{"filter": "isValid(datum.t)"}], "mark": {"type": "text", "align": "left", "baseline": "middle", "fontSize": 13, "font": "Liberation Serif", "color": "#111111"},
    "encoding": {"x": {"datum": 0.3, "type": "quantitative", "axis": {"orient": "top", "values": [0.4,0.6,0.8,1.0,1.2,1.4,1.6], "labels": false, "title": null}},
                 "y": {"datum": 6.35, "type": "quantitative", "axis": {"orient": "right", "values": [0,1,2,3,4,5,6,7], "labels": false, "title": null}},
                 "text": {"field": "t"}}}
  ]},
 {"width": 190, "height": 143, "transform": [{"filter": "datum.p == 7"}], "resolve": {"axis": {"x": "independent", "y": "independent"}},
  "layer": [
   {"transform": [{"filter": "isValid(datum.t)"}], "mark": {"type": "rect", "fill": "#999999", "stroke": "#aaaaaa", "strokeWidth": 1},
    "encoding": {"y": {"datum": 1.05, "type": "quantitative", "scale": {"domain": [-0.7, 7], "nice": false, "zero": false}, "axis": {"orient": "left", "values": [0,1,2,3,4,5,6,7], "labels": false, "title": null}}, "y2": {"datum": 2.45}}},
   {"transform": [{"filter": "isValid(datum.t)"}], "mark": {"type": "rule", "color": "#222222", "strokeWidth": 1.5, "strokeDash": [6, 4]},
    "encoding": {"y": {"datum": 1.32, "type": "quantitative", "axis": null}}},
   {"mark": {"type": "line", "clip": true},
    "encoding": {
     "x": {"field": "x", "type": "quantitative", "scale": {"domain": [0.25, 1.7], "nice": false, "zero": false}, "axis": {"orient": "bottom", "values": [0.4,0.6,0.8,1.0,1.2,1.4,1.6], "format": ".1f", "title": "log Aᵥ (mag.)", "titlePadding": 2}},
     "y": {"field": "y", "type": "quantitative", "axis": null},
     "color": {"field": "g", "type": "nominal", "scale": {"domain": ["subsolar", "solar", "G₀=10", "G₀=50", "G₀=100", "observed M33"], "range": ["#000000", "#000000", "#ff0000", "#008000", "#0000ff", "#999999"]}},
     "strokeDash": {"field": "a", "type": "nominal", "scale": {"domain": ["subsolar", "solar"], "range": [[1, 0], [5, 3]]}, "legend": null},
     "strokeWidth": {"field": "a", "type": "ordinal", "scale": {"domain": ["subsolar", "solar"], "range": [1.2, 1.8]}, "legend": null}}},
   {"transform": [{"filter": "isValid(datum.t)"}], "mark": {"type": "text", "align": "left", "baseline": "middle", "fontSize": 13, "font": "Liberation Serif", "color": "#111111"},
    "encoding": {"x": {"datum": 0.3, "type": "quantitative", "axis": {"orient": "top", "values": [0.4,0.6,0.8,1.0,1.2,1.4,1.6], "labels": false, "title": null}},
                 "y": {"datum": 6.35, "type": "quantitative", "axis": {"orient": "right", "values": [0,1,2,3,4,5,6,7], "labels": false, "title": null}},
                 "text": {"field": "t"}}}
  ]}
]
}
